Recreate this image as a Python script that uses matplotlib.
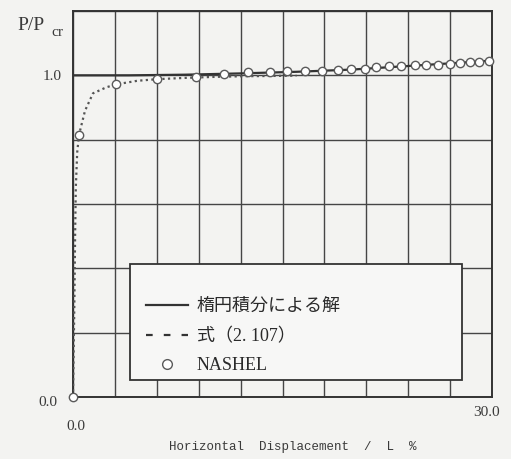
import matplotlib.pyplot as plt
from matplotlib.lines import Line2D
from matplotlib.patches import Rectangle
import numpy as np

# elliptic integral solution (solid)
elliptic_x = [0, 4, 8, 12, 16, 20, 24, 28, 30]
elliptic_y = [1.0, 1.0, 1.002, 1.006, 1.011, 1.018, 1.029, 1.040, 1.046]

# eq. (2.107) (dotted)
eq_x = [0, 0.1, 0.15, 0.2, 0.3, 0.43, 0.86, 1.43, 2.4, 3.1, 4.6, 6.0, 8.0, 10.0, 12.0, 14.0, 16.0]
eq_y = [0, 0.30, 0.50, 0.65, 0.76, 0.815, 0.89, 0.944, 0.963, 0.972, 0.983, 0.988, 0.992, 0.995, 0.997, 0.998, 0.999]

# NASHEL results (circles)
nashel_x = [0, 0.43, 3.1, 6.0, 8.8, 10.8, 12.5, 14.1, 15.3, 16.6, 17.8, 19.0, 19.9, 20.9,
            21.7, 22.6, 23.5, 24.5, 25.3, 26.1, 27.0, 27.7, 28.4, 29.1, 29.8]
nashel_y = [0, 0.815, 0.972, 0.988, 0.996, 1.003, 1.009, 1.011, 1.013, 1.014, 1.015, 1.016, 1.019, 1.021,
            1.026, 1.028, 1.030, 1.031, 1.032, 1.033, 1.036, 1.039, 1.040, 1.043, 1.046]

legend_labels = ["楕円積分による解", "式（2. 107）", "NASHEL"]

W, H = 511, 459
bg = "#f3f3f1"
ink = "#333333"

fig = plt.figure(figsize=(W / 100, H / 100), dpi=100, facecolor=bg)
ax = fig.add_axes([73 / W, 1 - 397 / H, 419 / W, 386 / H], facecolor=bg)

ax.set_xlim(0, 30)
ax.set_ylim(0, 1.2)
ax.set_xticks(np.arange(0, 30.1, 3))
ax.set_yticks(np.arange(0, 1.21, 0.2))
ax.grid(True, color="#454545", lw=1.0)
ax.tick_params(length=0, labelbottom=False, labelleft=False)
for s in ax.spines.values():
    s.set_linewidth(1.4)
    s.set_color(ink)

ax.plot(elliptic_x, elliptic_y, color=ink, lw=1.6, zorder=3)
ax.plot(eq_x, eq_y, color="#555555", lw=1.6, linestyle=(0, (1.0, 1.5)), zorder=3)
ax.plot(nashel_x, nashel_y, linestyle="none", marker="o", ms=6, mfc="white",
        mec="#5a5a5a", mew=1.0, zorder=4, clip_on=False)

# legend box
ax.add_patch(Rectangle((0.136, 0.044), 0.792, 0.3005, transform=ax.transAxes,
                       facecolor="#f7f7f6", edgecolor=ink, lw=1.3, zorder=5))
handles = [
    Line2D([], [], color=ink, lw=1.6),
    Line2D([], [], color=ink, lw=1.6, linestyle=(0, (3, 5))),
    Line2D([], [], linestyle="none", marker="o", ms=7, mfc="white", mec="#5a5a5a", mew=1.0),
]
leg = fig.legend(handles, legend_labels, loc="upper left",
                 bbox_to_anchor=(146 / W, 1 - 298 / H), bbox_transform=fig.transFigure,
                 frameon=False, borderpad=0, borderaxespad=0, handlelength=2.3,
                 handletextpad=0.5, labelspacing=0.7,
                 prop={"family": ["Liberation Serif", "Noto Sans CJK JP"], "size": 13})
leg.set_zorder(6)
for t in leg.get_texts():
    t.set_color("#2a2a2a")

serif = ["Liberation Serif", "DejaVu Serif"]
def px(x, y, s, **kw):
    fig.text(x / W, 1 - y / H, s, ha="center", va="center", color="#3a3a3a",
             family=serif, **kw)

# tick labels and axis titles
px(52, 77, "1.0", fontsize=11)
px(48, 402, "0.0", fontsize=11)
px(76, 427, "0.0", fontsize=11)
px(486, 413, "30.0", fontsize=11)
px(31, 25, "P/P", fontsize=14)
px(57, 33, "cr", fontsize=11)
fig.text(293 / W, 1 - 447 / H, "Horizontal  Displacement  /  L  %", ha="center", va="center",
         color="#3a3a3a", family="Liberation Mono", fontsize=9)

fig.savefig("out.png", dpi=100, facecolor=bg)
